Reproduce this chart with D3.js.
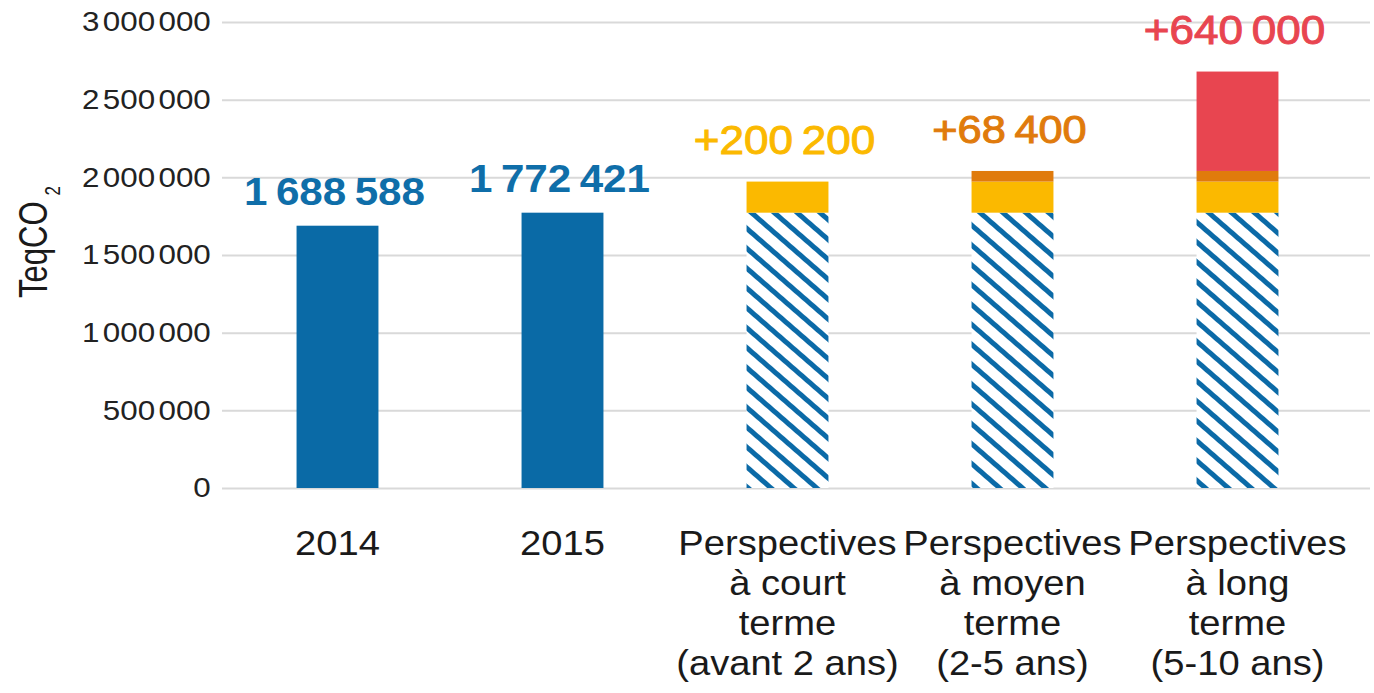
<!DOCTYPE html>
<html><head><meta charset="utf-8">
<script src="https://cdn.jsdelivr.net/npm/d3@7"></script>
<style>
body{margin:0;background:#fff;}
svg{display:block;font-family:"Liberation Sans",Arial,Helvetica,sans-serif;}
</style>
</head><body>
<svg id="chart" width="1374" height="693"></svg>
<script>
// ---- data ----
const categories = ["2014", "2015", "court", "moyen", "long"];
const categoryLabels = [
  ["2014"],
  ["2015"],
  ["Perspectives", "à court", "terme", "(avant 2 ans)"],
  ["Perspectives", "à moyen", "terme", "(2-5 ans)"],
  ["Perspectives", "à long", "terme", "(5-10 ans)"]
];
const measured   = [1688588, 1772421, 0, 0, 0];
const base2015   = [0, 0, 1772421, 1772421, 1772421];
const addShort   = [0, 0, 200200, 200200, 200200];
const addMedium  = [0, 0, 0, 68400, 68400];
const addLong    = [0, 0, 0, 0, 640000];
const yTickValues = [0, 500000, 1000000, 1500000, 2000000, 2500000, 3000000];
const yTitle = "TeqCO";
const yTitleSub = "2";

// ---- setup ----
const seriesKeys = ["measured", "base", "short", "medium", "long"];
const seriesData = {measured: measured, base: base2015, short: addShort, medium: addMedium, long: addLong};
const fills = {measured: "#0a6aa6", base: "url(#hatch)", short: "#fbb900", medium: "#e07b0c", long: "#e84550"};
const labelColors = {measured: "#0f6ea9", short: "#fbb900", medium: "#e07b0c", long: "#e84550"};

const rows = categories.map((c, i) => {
  const r = {cat: c};
  seriesKeys.forEach(k => r[k] = seriesData[k][i]);
  return r;
});
const stacked = d3.stack().keys(seriesKeys)(rows);

const locale = d3.formatLocale({decimal: ",", thousands: "\u2009", grouping: [3], currency: ["", ""]});
const fmt = locale.format(",");
const fmtPlus = locale.format("+,");
const groupLocale = d3.formatLocale({decimal: ",", thousands: " ", grouping: [3], currency: ["", ""]});
const fmtGroups = groupLocale.format(",");

const svg = d3.select("#chart");
const x = d3.scaleBand().domain(categories).range([225, 1350]).paddingInner(0.636).paddingOuter(0.318);
const y = d3.scaleLinear().domain([0, 3000000]).range([488, 22]);

// hatch pattern
const defs = svg.append("defs");
const pat = defs.append("pattern").attr("id", "hatch")
  .attr("patternUnits", "userSpaceOnUse").attr("width", 15).attr("height", 15)
  .attr("patternTransform", "rotate(-49)");
pat.append("rect").attr("width", 15).attr("height", 15).attr("fill", "#fff");
pat.append("rect").attr("width", 5).attr("height", 15).attr("fill", "#0b6aa7");

// gridlines
svg.append("g").attr("transform", "translate(222,0)")
  .call(d3.axisLeft(y).tickValues(yTickValues).tickSize(-(1370 - 222)).tickFormat(""))
  .call(g => g.select(".domain").remove())
  .call(g => g.selectAll("line").attr("stroke", "#d9d9d9").attr("stroke-width", 2));

// y axis labels
svg.append("g").attr("transform", "translate(222,0)")
  .call(d3.axisLeft(y).tickValues(yTickValues).tickSize(0).tickPadding(10).tickFormat(fmtGroups))
  .call(g => g.select(".domain").remove())
  .call(g => g.selectAll("text")
    .attr("font-size", 28).attr("font-family", "Liberation Sans, Arial, sans-serif")
    .attr("fill", "#222").attr("transform", "scale(1.12,1)")
    .each(function () {
      const parts = this.textContent.split(" ");
      const t = d3.select(this);
      t.text("");
      parts.forEach((p, i) => t.append("tspan").attr("dx", i === 0 ? 0 : 3).text(p));
    }));

// bars
svg.append("g").selectAll("g").data(stacked).join("g")
  .attr("fill", d => fills[d.key])
  .selectAll("rect").data(d => d.filter(s => s[1] > s[0])).join("rect")
  .attr("x", d => x(d.data.cat))
  .attr("width", x.bandwidth())
  .attr("y", d => y(d[1]))
  .attr("height", d => y(d[0]) - y(d[1]));

// value labels
const labels = rows.map(r => {
  const topKey = seriesKeys.filter(k => r[k] > 0).pop();
  const total = seriesKeys.reduce((s, k) => s + r[k], 0);
  return {cat: r.cat, key: topKey, total: total,
    text: topKey === "measured" ? fmt(r[topKey]) : fmtPlus(r[topKey])};
});
svg.append("g").selectAll("text").data(labels).join("text")
  .attr("transform", d => {
    const off = d.key === "measured" ? 21 : 28;
    const sx = d.key === "measured" ? 1.11 : (d.key === "medium" ? 1.14 : 1.1);
    return `translate(${x(d.cat) + x.bandwidth() / 2 - 3},${y(d.total) - off}) scale(${sx},1)`;
  })
  .attr("text-anchor", "middle")
  .attr("font-size", d => d.key === "measured" ? 38 : (d.key === "medium" ? 38 : 40))
  .attr("font-weight", d => d.key === "measured" ? "bold" : "normal")
  .attr("fill", d => labelColors[d.key])
  .attr("stroke", d => d.key === "measured" ? "none" : labelColors[d.key])
  .attr("stroke-width", 1)
  .text(d => d.text);

// x labels
const xl = svg.append("g").selectAll("text").data(categories).join("text")
  .attr("transform", d => `translate(${x(d) + x.bandwidth() / 2},555) scale(1.09,1)`)
  .attr("text-anchor", "middle").attr("font-size", 35).attr("fill", "#1a1a1a");
xl.selectAll("tspan").data((d, i) => categoryLabels[i]).join("tspan")
  .attr("x", 0).attr("dy", (d, i) => i === 0 ? 0 : 40).text(d => d);

// y title
const yt = svg.append("text")
  .attr("transform", "translate(47,242) rotate(-90) scale(1,1.3)")
  .attr("text-anchor", "middle").attr("font-size", 31).attr("fill", "#1a1a1a");
yt.append("tspan").text(yTitle);
yt.append("tspan").attr("font-size", 17).attr("dx", 6).attr("dy", 10).text(yTitleSub);
</script>
</body></html>
